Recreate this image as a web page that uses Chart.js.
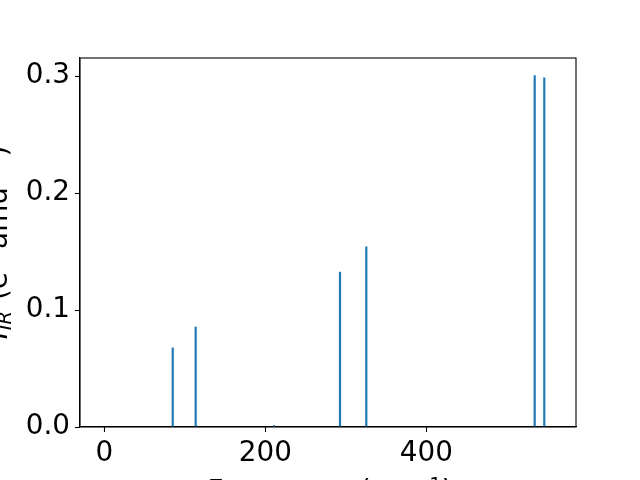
<!DOCTYPE html>
<html>
<head>
<meta charset="utf-8">
<script src="https://cdn.jsdelivr.net/npm/chart.js@4/dist/chart.umd.min.js"></script>
<style>
  html, body { margin: 0; padding: 0; background: #fff; overflow: hidden; }
  #c { display: block; }
</style>
</head>
<body>
<canvas id="c" width="640" height="480"></canvas>
<script>
// Frequencies (cm^-1) and IR intensities (e^2 amu^-1)
const frequencies = [85.0, 113.5, 210.8, 292.8, 325.5, 534.7, 546.6];
const intensities = [0.0676, 0.0855, 0.0012, 0.1324, 0.1540, 0.3004, 0.2984];
const xTicks = [0, 200, 400];
const yTicks = [0.0, 0.1, 0.2, 0.3];

const FONT = 'DejaVu Sans';
const FS = 27.8;

function drawRich(ctx, parts, cx, baseY) {
  let total = 0;
  const widths = parts.map(p => {
    ctx.font = (p.italic ? 'italic ' : '') + (FS * p.s) + 'px "' + FONT + '"';
    const w = ctx.measureText(p.t).width + (p.gap || 0);
    total += w;
    return w;
  });
  let x = cx - total / 2;
  parts.forEach((p, i) => {
    ctx.font = (p.italic ? 'italic ' : '') + (FS * p.s) + 'px "' + FONT + '"';
    ctx.fillText(p.t, x, baseY + (p.dy || 0));
    x += widths[i];
  });
}

const framePlugin = {
  id: 'frame',
  afterDraw(chart) {
    const ctx = chart.ctx, a = chart.chartArea;
    ctx.save();
    ctx.strokeStyle = '#000';
    ctx.lineWidth = 1.1;
    ctx.strokeRect(a.left, a.top, a.right - a.left, a.bottom - a.top);
    ctx.fillStyle = '#000';
    ctx.textBaseline = 'alphabetic';
    ctx.textAlign = 'left';
    // x-axis label
    drawRich(ctx, [
      { t: 'Frequency (cm', s: 1 },
      { t: '\u22121', s: 0.7, dy: -9.5 },
      { t: ')', s: 1 }
    ], (a.left + a.right) / 2 + 2, 500);
    // y-axis label (rotated)
    ctx.translate(7, (a.top + a.bottom) / 2);
    ctx.rotate(-Math.PI / 2);
    drawRich(ctx, [
      { t: 'I', s: 1, italic: true, gap: 1 },
      { t: 'IR', s: 0.7, italic: true, dy: 4, gap: 2 },
      { t: ' (e', s: 1 },
      { t: '2', s: 0.7, dy: -9.5, gap: 2 },
      { t: ' amu', s: 1 },
      { t: '\u22121', s: 0.7, dy: -9.5, gap: 2 },
      { t: ')', s: 1 }
    ], 0, 0);
    ctx.restore();
  }
};

new Chart(document.getElementById('c'), {
  type: 'bar',
  data: {
    datasets: [{
      data: frequencies.map((f, i) => ({ x: f, y: intensities[i] })),
      backgroundColor: '#1f77b4',
      borderWidth: 0,
      barThickness: 1.5
    }]
  },
  options: {
    responsive: false,
    animation: false,
    events: [],
    layout: { padding: { top: 58, right: 64, left: 0, bottom: 0 } },
    plugins: { legend: { display: false }, tooltip: { enabled: false } },
    scales: {
      x: {
        type: 'linear',
        min: -30.2,
        max: 586,
        offset: false,
        afterBuildTicks: s => { s.ticks = xTicks.map(v => ({ value: v })); },
        afterFit: s => { s.height = 53; },
        grid: { display: true, offset: false, drawOnChartArea: false, drawTicks: true, tickLength: 5, color: '#000', tickWidth: 1.1 },
        border: { display: true, color: '#000', width: 1.1 },
        ticks: {
          color: '#000', padding: 5, maxRotation: 0, autoSkip: false,
          font: { family: FONT, size: FS },
          callback: v => String(v)
        }
      },
      y: {
        type: 'linear',
        min: 0,
        max: 0.3154,
        afterBuildTicks: s => { s.ticks = yTicks.map(v => ({ value: v })); },
        afterFit: s => { s.width = 80; },
        grid: { display: true, offset: false, drawOnChartArea: false, drawTicks: true, tickLength: 5, color: '#000', tickWidth: 1.1 },
        border: { display: true, color: '#000', width: 1.1 },
        ticks: {
          color: '#000', padding: 5, autoSkip: false,
          font: { family: FONT, size: FS },
          callback: v => v.toFixed(1)
        }
      }
    }
  },
  plugins: [framePlugin]
});
</script>
</body>
</html>
